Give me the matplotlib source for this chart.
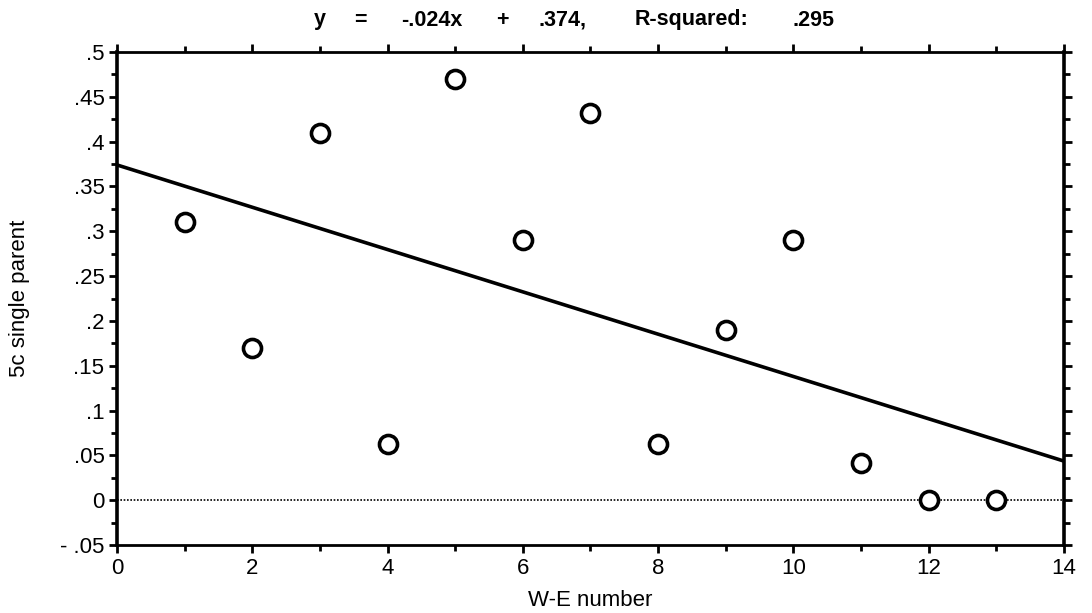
import numpy as np
import matplotlib.pyplot as plt
from matplotlib.ticker import MultipleLocator

# data
we_number = [1, 2, 3, 4, 5, 6, 7, 8, 9, 10, 11, 12, 13]
single_parent = [0.31, 0.17, 0.41, 0.063, 0.47, 0.29, 0.432, 0.063, 0.19, 0.29, 0.042, 0.0, 0.0]
slope = -0.0236
intercept = 0.374

ytick_vals = [-0.05, 0, 0.05, 0.1, 0.15, 0.2, 0.25, 0.3, 0.35, 0.4, 0.45, 0.5]
ytick_labels = ['- .05', '0', '.05', '.1', '.15', '.2', '.25', '.3', '.35', '.4', '.45', '.5']
xtick_vals = [0, 2, 4, 6, 8, 10, 12, 14]

# title pieces, spread out like the original (centre of each piece, in px)
title_parts = ['y', '=', '-.024x', '+', '.374,', 'R-squared:', '.295']
title_x = [320, 360, 432, 502, 562, 692, 814]

plt.rcParams['font.family'] = ['Liberation Sans', 'DejaVu Sans']

fig = plt.figure(figsize=(10.92, 6.13), dpi=100)
ax = fig.add_axes([0.1071, 0.1109, 0.8673, 0.8043])

# zero line, dotted
ax.axhline(0, color='black', lw=1.2, ls=(0, (1, 1)), zorder=1)

# regression line
xl = np.array([0, 14])
ax.plot(xl, intercept + slope * xl, color='black', lw=2.6, zorder=2)

ax.plot(we_number, single_parent, 'o', ms=13, mfc='white', mec='black', mew=2.6,
        zorder=3, clip_on=False)

ax.set_xlim(0, 14)
ax.set_ylim(-0.05, 0.5)
ax.set_xticks(xtick_vals)
ax.xaxis.set_minor_locator(MultipleLocator(1))
ax.set_yticks(ytick_vals)
ax.set_yticklabels(ytick_labels)
ax.yaxis.set_minor_locator(MultipleLocator(0.025))

ax.tick_params(which='major', direction='out', length=6, width=2, labelsize=16,
               top=True, right=True, pad=3)
ax.tick_params(which='minor', direction='out', length=4, width=2,
               top=True, right=True)

for side in ['left', 'right']:
    ax.spines[side].set_linewidth(2.6)
for side in ['top', 'bottom']:
    ax.spines[side].set_linewidth(2.0)

ax.set_xlabel('W-E number', fontsize=16, labelpad=8)
ax.set_ylabel('5c single parent', fontsize=16, labelpad=22)

for t, px in zip(title_parts, title_x):
    fig.text(px / 1092, 1 - 20 / 613, t, fontsize=15.5, fontweight='bold',
             ha='center', va='center')

plt.savefig('out.png', dpi=100)
